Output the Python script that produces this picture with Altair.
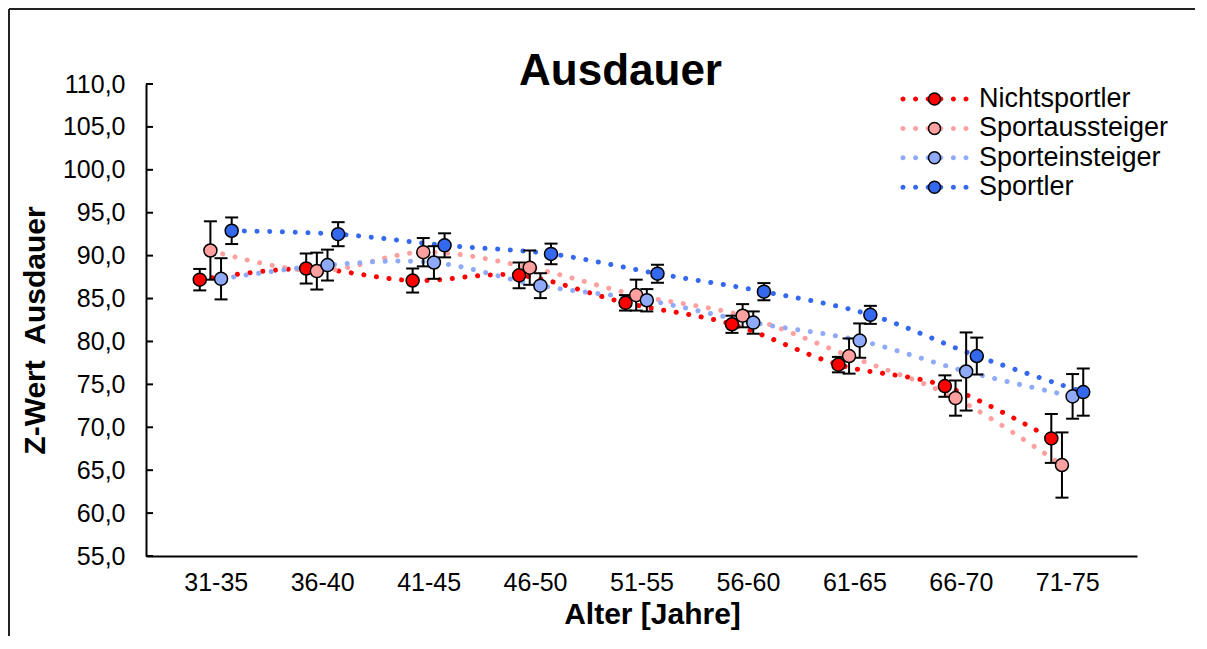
import json
import altair as alt
import pandas as pd

# ---------------- data ----------------
AGE_GROUPS = ["31-35", "36-40", "41-45", "46-50", "51-55", "56-60", "61-65", "66-70", "71-75"]
SERIES = ["Nichtsportler", "Sportaussteiger", "Sporteinsteiger", "Sportler"]
COLORS = ["#FF0000", "#FFA0A0", "#8FAAF8", "#3468EE"]

NICHTSPORTLER = [87.2, 88.5, 87.1, 87.7, 84.5, 82.0, 77.3, 74.8, 68.7]
NICHTSPORTLER_ERR = [1.25, 1.75, 1.4, 1.5, 0.9, 1.0, 0.9, 1.25, 2.85]
SPORTAUSSTEIGER = [90.6, 88.2, 90.4, 88.6, 85.4, 83.0, 78.3, 73.4, 65.6]
SPORTAUSSTEIGER_ERR = [3.4, 2.15, 1.65, 2.0, 1.8, 1.35, 2.05, 2.05, 3.8]
SPORTEINSTEIGER = [87.3, 88.9, 89.2, 86.5, 84.8, 82.2, 80.1, 76.5, 73.6]
SPORTEINSTEIGER_ERR = [2.4, 1.8, 1.9, 1.45, 1.3, 1.3, 2.0, 4.55, 2.6]
SPORTLER = [92.9, 92.5, 91.2, 90.2, 87.9, 85.8, 83.1, 78.3, 74.1]
SPORTLER_ERR = [1.55, 1.4, 1.4, 1.2, 1.05, 1.0, 1.05, 2.15, 2.75]

Y_TICKS = [55, 60, 65, 70, 75, 80, 85, 90, 95, 100, 105, 110]

VALUES = [NICHTSPORTLER, SPORTAUSSTEIGER, SPORTEINSTEIGER, SPORTLER]
ERRORS = [NICHTSPORTLER_ERR, SPORTAUSSTEIGER_ERR, SPORTEINSTEIGER_ERR, SPORTLER_ERR]
SERIES_SHIFT = [-0.15, -0.05, 0.05, 0.15]

rows = []
for s, name in enumerate(SERIES):
    for i, grp in enumerate(AGE_GROUPS):
        v = VALUES[s][i]
        e = ERRORS[s][i]
        rows.append({"Gruppe": name, "GruppeL": name, "Alter": grp,
                     "x": i + 1 + SERIES_SHIFT[s], "value": v, "lo": v - e, "hi": v + e})
df = pd.DataFrame(rows)
ticks_df = pd.DataFrame({"v": Y_TICKS})

# ---------------- style ----------------
FONT = "Liberation Sans"
W, H = 991, 472

x_scale = alt.Scale(domain=[0.345, 9.655], nice=False, zero=False)
y_scale = alt.Scale(domain=[55, 110], nice=False, zero=False)

x_axis = alt.Axis(
    values=list(range(1, len(AGE_GROUPS) + 1)),
    labelExpr=f"{json.dumps(AGE_GROUPS)}[datum.value - 1]",
    title="Alter [Jahre]", titleFont=FONT, titleFontSize=30, titleFontWeight="bold",
    titleColor="black", titlePadding=4, titleX=506,
    labelFont=FONT, labelFontSize=25, labelColor="black", labelPadding=14,
    ticks=False, grid=False, domainColor="black", domainWidth=2, labelFlush=False,
)
y_axis = alt.Axis(
    values=Y_TICKS,
    labelExpr="replace(format(datum.value, '.1f'), '.', ',')",
    title="Z-Wert\u00a0 Ausdauer", titleFont=FONT, titleFontSize=30, titleFontWeight="bold",
    titleColor="black", titlePadding=12, titleY=246,
    labelFont=FONT, labelFontSize=25, labelColor="black", labelPadding=21,
    ticks=False, grid=False, domainColor="black", domainWidth=2, labelFlush=False,
)

X = alt.X("x:Q", scale=x_scale, axis=x_axis)


def Y(field):
    return alt.Y(f"{field}:Q", scale=y_scale, axis=y_axis)


base = alt.Chart(df)

lines = base.mark_line(
    interpolate="cardinal", strokeWidth=5, strokeDash=[0.1, 12.6], strokeCap="round"
).encode(
    x=X, y=Y("value"),
    stroke=alt.Stroke("Gruppe:N", scale=alt.Scale(range=COLORS), legend=None),
)

err_rule = base.mark_rule(color="black", strokeWidth=2).encode(x=X, y=Y("lo"), y2="hi:Q")
cap_lo = base.mark_tick(orient="horizontal", color="black", thickness=2, size=13, opacity=1).encode(x=X, y=Y("lo"))
cap_hi = base.mark_tick(orient="horizontal", color="black", thickness=2, size=13, opacity=1).encode(x=X, y=Y("hi"))

r = 0.42
DOTS = "".join(
    f"M{cx - r:.3f},0A{r},{r} 0 1,0 {cx + r:.3f},0A{r},{r} 0 1,0 {cx - r:.3f},0Z"
    for cx in [-5.25, -3.15, -1.05, 1.05, 3.15, 5.25]
)

LEG_X, LEG_Y = 775, 1.5

legend_dots = base.mark_point(filled=True, size=0, opacity=1).encode(
    x=X, y=Y("value"),
    color=alt.Color("GruppeL:N", scale=alt.Scale(range=COLORS), legend=alt.Legend(
        orient="none", legendX=LEG_X, legendY=LEG_Y, title=None,
        symbolType=DOTS, symbolSize=144, symbolStrokeWidth=0, symbolOpacity=1,
        labelFont=FONT, labelFontSize=27, labelOffset=31, labelOpacity=0, rowPadding=1.4,
        labelLimit=400,
    )),
)

points = base.mark_point(
    filled=True, size=170, stroke="black", strokeWidth=1.5, opacity=1, shape="circle"
).encode(
    x=X, y=Y("value"),
    fill=alt.Fill("Gruppe:N", scale=alt.Scale(range=COLORS), legend=alt.Legend(
        orient="none", legendX=LEG_X, legendY=LEG_Y, title=None,
        symbolType="circle", symbolSize=144, symbolStrokeColor="black", symbolStrokeWidth=1.5,
        symbolOpacity=1,
        labelFont=FONT, labelFontSize=27, labelColor="black", labelOffset=31, rowPadding=1.4,
        labelLimit=400,
    )),
)

inner_ticks = alt.Chart(ticks_df).mark_rule(color="black", strokeWidth=2).encode(
    y=alt.Y("v:Q", scale=y_scale, axis=y_axis), x=alt.value(0), x2=alt.value(7)
)

frame_df = pd.DataFrame({"k": [0]})
frame_top = alt.Chart(frame_df).mark_rule(color="#222222", strokeWidth=2).encode(
    x=alt.value(-137), x2=alt.value(W + 58), y=alt.value(-75)
)
frame_left = alt.Chart(frame_df).mark_rule(color="#222222", strokeWidth=2).encode(
    x=alt.value(-137), y=alt.value(-75), y2=alt.value(H + 80)
)

chart = alt.layer(
    frame_top, frame_left, lines, err_rule, cap_lo, cap_hi, inner_ticks, legend_dots, points
).properties(
    width=W, height=H, padding=0,
    title=alt.Title("Ausdauer", font=FONT, fontSize=44, fontWeight="bold", color="black",
                    anchor="middle", dx=-21, dy=125, baseline="alphabetic"),
).configure_view(stroke="transparent").resolve_scale(fill="independent", color="independent", stroke="independent")

chart.save("out.html", embed_options={"renderer": "svg", "actions": False})
